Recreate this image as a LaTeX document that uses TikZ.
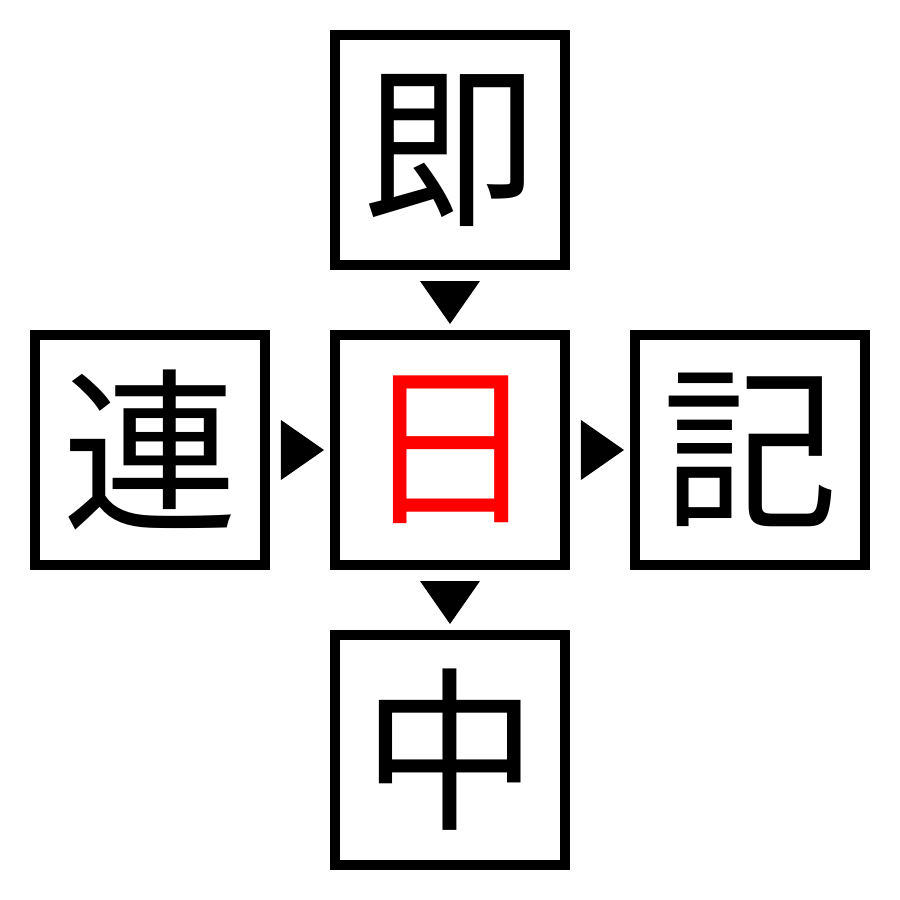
\documentclass[tikz,border=0pt]{standalone}
\usepackage{fontspec}
\newfontfamily\cjk{Noto Sans CJK JP}
\usetikzlibrary{calc}
\begin{document}
\begin{tikzpicture}
[line width=0.1cm,%
  every node/.style={shape=rectangle,draw,line width=0.1cm,minimum size=2.3cm,inner sep=0pt,
    font=\cjk\fontsize{50}{50}\selectfont}]
\useasboundingbox (-4.5,-4.5) rectangle (4.5,4.5);
\node[text=red] (ri) at (0,0) {日};
\node (soku) at (0,3) {即};
\node (ren) at (-3,0) {連};
\node (ki) at (3,0) {記};
\node (chu) at (0,-3) {中};
% arrowheads
\fill ($(soku.south)+(-0.3,-0.11)$) -- ++(0.6,0) -- ($(ri.north)+(0,0.06)$) -- cycle;
\fill ($(ri.south)+(-0.3,-0.11)$) -- ++(0.6,0) -- ($(chu.north)+(0,0.06)$) -- cycle;
\fill ($(ren.east)+(0.11,0.3)$) -- ++(0,-0.6) -- ($(ri.west)+(-0.06,0)$) -- cycle;
\fill ($(ri.east)+(0.11,0.3)$) -- ++(0,-0.6) -- ($(ki.west)+(-0.06,0)$) -- cycle;
\end{tikzpicture}
\end{document}
